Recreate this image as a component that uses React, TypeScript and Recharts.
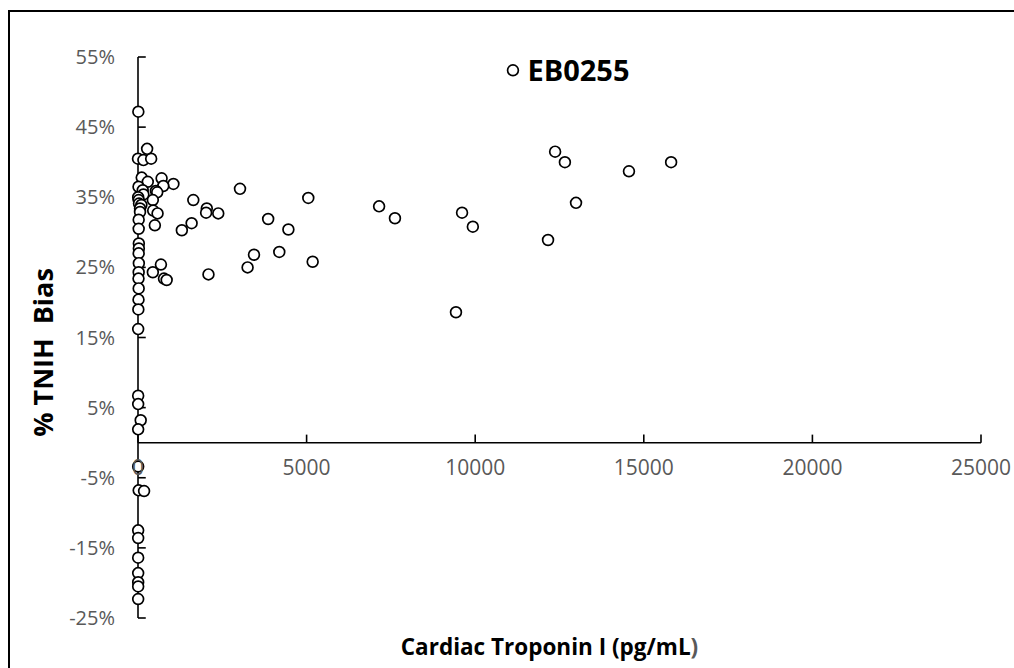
import { ScatterChart, Scatter, XAxis, YAxis, ReferenceLine, LabelList } from 'recharts';

// pg/mL and % bias
const troponin = [
  10, 0, 160, 390, 270, 110, 290, 700, 1050, 750, 15, 140, 530, 570, 160, 5, 20, 440, 30, 100,
  60, 450, 580, 60, 20, 500, 20, 25, 25, 20, 25, 20, 15, 20, 15, 10, 5, 5, 5, 80,
  5, 5, 20, 180, 5, 5, 5, 5, 5, 5, 5,
  680, 440, 770, 850,
  1640, 2040, 2020, 2380, 1590, 1300, 2090, 3025, 3860, 3440, 3250, 4190, 4460, 5050, 5180,
  7150, 7620, 9430, 9610, 9930, 12160, 12370, 12660, 12990, 14560, 15810,
];
const bias = [
  47.2, 40.5, 40.3, 40.5, 41.9, 37.8, 37.2, 37.7, 36.9, 36.6, 36.5, 36.0, 35.9, 35.7, 35.4, 35.0, 34.6, 34.6, 34.1, 33.9,
  33.4, 33.1, 32.7, 32.9, 31.8, 31.0, 30.5, 28.4, 27.7, 27.0, 25.6, 24.3, 23.4, 22.0, 20.4, 19.0, 16.2, 6.7, 5.5, 3.2,
  1.9, -3.4, -6.8, -6.9, -12.5, -13.6, -16.4, -18.6, -19.9, -20.5, -22.3,
  25.4, 24.3, 23.4, 23.2,
  34.6, 33.4, 32.8, 32.7, 31.3, 30.3, 24.0, 36.2, 31.9, 26.8, 25.0, 27.2, 30.4, 34.9, 25.8,
  33.7, 32.0, 18.6, 32.8, 30.8, 28.9, 41.5, 40.0, 34.2, 38.7, 40.0,
];

const outlierTroponin = [11120];
const outlierBias = [53.1];
const outlierName = ['EB0255'];

const xTicks = [0, 5000, 10000, 15000, 20000, 25000];
const yTicks = [-25, -15, -5, 5, 15, 25, 35, 45, 55];

const points = troponin.map((x, i) => ({ x, y: bias[i] }));
const outliers = outlierTroponin.map((x, i) => ({ x, y: outlierBias[i], name: outlierName[i] }));

const FONT = '"Open Sans", sans-serif';
const GREY = '#595959';

const Dot = (p: any) => (
  <circle cx={p.cx} cy={p.cy} r={5.4} fill="#fff" stroke="#000" strokeWidth={1.7} />
);

const XTitle = ({ viewBox }: any) => (
  <text
    x={viewBox.x + viewBox.width / 2 - 10}
    y={viewBox.y + 37}
    textAnchor="middle"
    fontFamily={FONT}
    fontWeight="bold"
    fontSize={22.5}
    fill="#000"
  >
    Cardiac Troponin I (pg/mL<tspan fill={GREY}>)</tspan>
  </text>
);

const YTitle = ({ viewBox }: any) => {
  const cx = 34;
  const cy = viewBox.y + viewBox.height / 2 + 15;
  return (
    <text
      x={cx}
      y={cy}
      transform={`rotate(-90 ${cx} ${cy})`}
      textAnchor="middle"
      dominantBaseline="central"
      fontFamily={FONT}
      fontWeight="bold"
      fontSize={27}
      fill="#000"
      style={{ whiteSpace: 'pre' }}
    >
      {'% TNIH  Bias'}
    </text>
  );
};

export default function App() {
  return (
    <div style={{ position: 'fixed', left: 0, top: 0, width: 1014, height: 668, overflow: 'hidden', background: '#fff' }}>
      <div
        style={{
          position: 'absolute',
          left: 8,
          top: 10,
          width: 1010,
          height: 700,
          border: '2px solid #000',
        }}
      />
      <div style={{ position: 'absolute', left: 8, top: 8 }}>
        <ScatterChart width={1006} height={660} margin={{ top: 49, right: 33, bottom: 0, left: 0 }}>
          <XAxis
            type="number"
            dataKey="x"
            domain={[0, 25000]}
            ticks={xTicks}
            tick={false}
            tickLine={false}
            axisLine={false}
            height={50}
            label={{ content: XTitle }}
          />
          <YAxis
            type="number"
            dataKey="y"
            domain={[-25, 55]}
            ticks={yTicks}
            width={130}
            interval={0}
            tickSize={0}
            tickMargin={23}
            tickLine={false}
            axisLine={{ stroke: '#000', strokeWidth: 1.6 }}
            tick={{ fill: GREY, fontSize: 20, fontFamily: FONT }}
            tickFormatter={(v: number) => `${v}%`}
            label={{ content: YTitle }}
          />
          {yTicks.map((v) => (
            <ReferenceLine
              key={`yt${v}`}
              segment={[{ x: 0, y: v }, { x: 230, y: v }]}
              stroke="#000"
              strokeWidth={1.6}
            />
          ))}
          <ReferenceLine y={0} stroke="#000" strokeWidth={1.6} />
          {xTicks.map((v) => (
            <ReferenceLine
              key={`xt${v}`}
              segment={[{ x: v, y: 0 }, { x: v, y: 1.15 }]}
              stroke="#000"
              strokeWidth={1.6}
              label={{
                value: String(v),
                position: 'bottom',
                offset: 17,
                fill: GREY,
                fontSize: 21,
                fontFamily: FONT,
              }}
            />
          ))}
          <Scatter data={points} shape={Dot} isAnimationActive={false} />
          <Scatter data={outliers} shape={Dot} isAnimationActive={false}>
            <LabelList
              dataKey="name"
              position="right"
              offset={10}
              fill="#000"
              fontSize={29}
              fontWeight="bold"
              fontFamily={FONT}
            />
          </Scatter>
        </ScatterChart>
      </div>
    </div>
  );
}
